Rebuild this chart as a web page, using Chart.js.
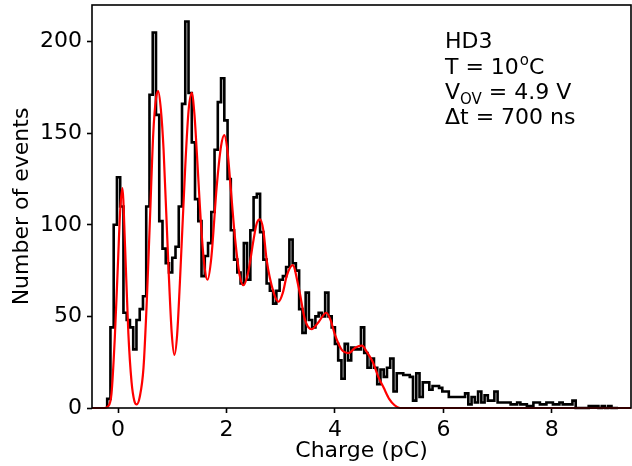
<!DOCTYPE html>
<html>
<head>
<meta charset="utf-8">
<script src="https://cdn.jsdelivr.net/npm/chart.js@4.4.0/dist/chart.umd.min.js"></script>
<style>
  html, body { margin: 0; padding: 0; background: #fff; }
  #wrap { width: 632px; height: 466px; }
</style>
</head>
<body>
<div id="wrap"><canvas id="chart" width="632" height="466"></canvas></div>
<script>
// histogram: bin edges start at binStart, equal width
const binStart = -0.2;
const binWidth = 0.06;
const counts = [
  0, 5, 44, 100, 126, 110, 52, 48, 44, 32,
  48, 54, 61, 110, 171, 205, 160, 102, 87, 79,
  74, 82, 88, 110, 166, 211, 172, 145, 114, 102,
  72, 83, 90, 107, 141, 167, 180, 157, 125, 97,
  81, 74, 68, 90, 70, 97, 115, 117, 96, 81,
  68, 64, 57, 64, 70, 72, 77, 92, 79, 75,
  54, 41, 63, 48, 44, 50, 52, 50, 63, 50,
  44, 35, 26, 16, 35, 26, 33, 32, 32, 44,
  30, 22, 27, 22, 13, 21, 17, 22, 27, 9,
  19, 19, 18, 18, 17, 4, 19, 6, 14, 14,
  10, 12, 12, 11, 9, 9, 6, 6, 6, 6,
  6, 8, 2, 6, 3, 9, 3, 7, 4, 4,
  9, 3, 3, 3, 3, 2, 2, 3, 2, 2,
  1, 1, 3, 3, 2, 2, 3, 3, 2, 2,
  3, 2, 2, 2, 4, 0, 0, 0, 0, 1,
  1, 1, 0, 1, 0, 1, 0
];

// fit curve
const fitCharge = [
  -0.48, -0.25, -0.18, -0.12, -0.06, 0.00, 0.04, 0.08, 0.13, 0.19,
  0.25, 0.30, 0.345, 0.40, 0.47, 0.53, 0.59, 0.65, 0.70, 0.74,
  0.79, 0.84, 0.93, 0.99, 1.04, 1.09, 1.14, 1.24, 1.30, 1.36,
  1.41, 1.45, 1.54, 1.60, 1.65, 1.72, 1.82, 1.90, 1.96, 2.02,
  2.07, 2.16, 2.24, 2.31, 2.40, 2.50, 2.56, 2.62, 2.68, 2.74,
  2.87, 2.96, 3.04, 3.11, 3.22, 3.33, 3.45, 3.57, 3.70, 3.84,
  3.92, 4.00, 4.12, 4.25, 4.38, 4.50, 4.58, 4.70, 4.80, 4.90,
  5.00, 5.10, 5.20, 9.46
];
const fitEvents = [
  0, 0, 1, 8, 38, 80, 108, 120, 88, 41,
  14, 4, 2, 6, 22, 58, 104, 150, 169, 173,
  163, 141, 77, 41, 29, 40, 68, 132, 162, 172,
  160, 141, 96, 76, 70, 82, 121, 143, 149, 140,
  123, 92, 73, 67, 74, 92, 101, 103, 97, 81,
  63, 58, 63, 72, 78, 66, 48, 43, 47, 52,
  48, 40, 32, 30, 33, 34, 31, 25, 17, 11,
  5, 1.5, 0, 0
];

const xTicks = [0, 2, 4, 6, 8];
const yTicks = [0, 50, 100, 150, 200];
const xTitle = "Charge (pC)";
const yTitle = "Number of events";

const FONT = '"DejaVu Sans", sans-serif';

// step outline points
const histPoints = [{ x: binStart, y: 0 }];
counts.forEach((c, i) => histPoints.push({ x: binStart + i * binWidth, y: c }));
histPoints.push({ x: binStart + counts.length * binWidth, y: 0 });

const fitPoints = fitCharge.map((x, i) => ({ x: x, y: fitEvents[i] }));

// frame, axis titles and the text block
const decor = {
  id: "decor",
  afterDraw(chart) {
    const ctx = chart.ctx;
    const a = chart.chartArea;
    ctx.save();
    ctx.strokeStyle = "#000";
    ctx.lineWidth = 1.6;
    ctx.strokeRect(a.left, a.top, a.right - a.left, a.bottom - a.top);

    ctx.fillStyle = "#000";
    ctx.font = "22px " + FONT;
    ctx.textAlign = "center";
    ctx.textBaseline = "alphabetic";
    ctx.fillText(xTitle, (a.left + a.right) / 2, 457);

    ctx.save();
    ctx.translate(28, (a.top + a.bottom) / 2);
    ctx.rotate(-Math.PI / 2);
    ctx.fillText(yTitle, 0, 0);
    ctx.restore();

    ctx.textAlign = "left";
    const x0 = 445;
    let x;
    ctx.fillText("HD3", x0, 48);

    // T = 10ºC
    x = x0;
    ctx.font = "22px " + FONT;
    ctx.fillText("T = 10", x, 74);
    x += ctx.measureText("T = 10").width;
    ctx.font = "15px " + FONT;
    ctx.fillText("o", x + 1, 65);
    x += ctx.measureText("o").width + 1;
    ctx.font = "22px " + FONT;
    ctx.fillText("C", x, 74);

    // V_OV = 4.9 V
    x = x0;
    ctx.fillText("V", x, 99);
    x += ctx.measureText("V").width;
    ctx.font = "15px " + FONT;
    ctx.fillText("OV", x, 104);
    x += ctx.measureText("OV").width;
    ctx.font = "22px " + FONT;
    ctx.fillText(" = 4.9 V", x, 99);

    ctx.fillText("\u0394t = 700 ns", x0, 124);
    ctx.restore();
  }
};

new Chart(document.getElementById("chart"), {
  type: "line",
  data: {
    datasets: [
      {
        label: "fit",
        data: fitPoints,
        borderColor: "#ff0000",
        borderWidth: 2.2,
        pointRadius: 0,
        cubicInterpolationMode: "monotone",
        fill: false,
        clip: 3,
        order: 0
      },
      {
        label: "data",
        data: histPoints,
        borderColor: "#000000",
        borderWidth: 2.6,
        pointRadius: 0,
        stepped: "after",
        fill: false,
        clip: 3,
        order: 1
      }
    ]
  },
  options: {
    responsive: false,
    animation: false,
    devicePixelRatio: 1,
    layout: { padding: { top: 5, right: 1, left: 0, bottom: 0 } },
    plugins: { legend: { display: false }, tooltip: { enabled: false } },
    scales: {
      x: {
        type: "linear",
        min: -0.48,
        max: 9.46,
        afterBuildTicks: s => { s.ticks = xTicks.map(v => ({ value: v })); },
        afterFit: s => { s.height = 58; s.paddingLeft = 0; s.paddingRight = 0; },
        grid: { drawOnChartArea: false, drawTicks: true, tickLength: 5, tickColor: "#000", tickWidth: 1.6 },
        border: { display: false },
        ticks: { color: "#000", font: { family: FONT, size: 22 }, padding: 4, maxRotation: 0 }
      },
      y: {
        type: "linear",
        min: 0,
        max: 220,
        afterBuildTicks: s => { s.ticks = yTicks.map(v => ({ value: v })); },
        afterFit: s => { s.width = 92; s.paddingTop = 0; s.paddingBottom = 0; },
        grid: { drawOnChartArea: false, drawTicks: true, tickLength: 5, tickColor: "#000", tickWidth: 1.6 },
        border: { display: false },
        ticks: { color: "#000", font: { family: FONT, size: 22 }, padding: 5 }
      }
    }
  },
  plugins: [decor]
});
</script>
</body>
</html>
